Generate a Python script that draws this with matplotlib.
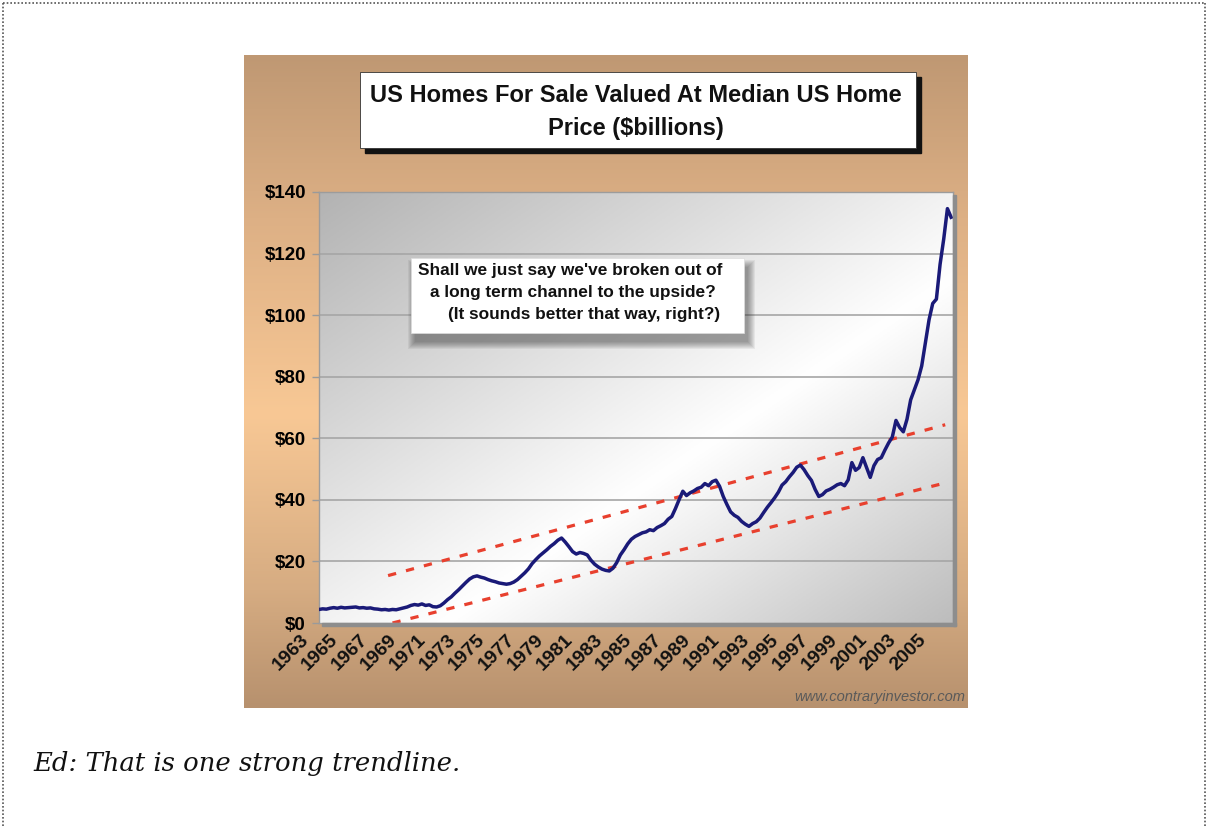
import numpy as np
import matplotlib
matplotlib.use("Agg")
import matplotlib.pyplot as plt
import matplotlib.transforms as mtransforms
from matplotlib.patches import Rectangle
from matplotlib.lines import Line2D

W, H = 1208, 826
SANS = "Liberation Sans"

# quarterly value of homes for sale at the median price, $billions (Q1 1963 onward)
first_year = 1963
homes_value = [
    4.4, 4.6, 4.5, 4.8,      # 1963
    5.0, 4.8, 5.1, 4.9,      # 1964
    5.0, 5.1, 5.2, 4.9,      # 1965
    5.0, 4.8, 4.9, 4.6,      # 1966
    4.5, 4.3, 4.4, 4.2,      # 1967
    4.4, 4.3, 4.6, 4.9,      # 1968
    5.2, 5.7, 6.0, 5.8,      # 1969
    6.2, 5.7, 5.9, 5.3,      # 1970
    5.2, 5.6, 6.5, 7.6,      # 1971
    8.5, 9.7, 10.8, 12.0,    # 1972
    13.2, 14.3, 15.0, 15.3,  # 1973
    14.9, 14.6, 14.1, 13.7,  # 1974
    13.4, 13.0, 12.8, 12.6,  # 1975
    12.8, 13.3, 14.1, 15.2,  # 1976
    16.3, 17.6, 19.3, 20.6,  # 1977
    21.8, 22.8, 23.8, 24.9,  # 1978
    25.8, 26.9, 27.6, 26.3,  # 1979
    24.8, 23.2, 22.4, 22.9,  # 1980
    22.6, 22.1, 20.4, 19.1,  # 1981
    18.2, 17.5, 17.1, 16.9,  # 1982
    17.8, 19.6, 22.1, 23.8,  # 1983
    25.7, 27.2, 28.1, 28.7,  # 1984
    29.3, 29.6, 30.3, 30.0,  # 1985
    31.0, 31.6, 32.3, 33.7,  # 1986
    34.6, 37.2, 40.1, 42.8,  # 1987
    41.4, 42.3, 42.9, 43.7,  # 1988
    44.1, 45.3, 44.6, 45.9,  # 1989
    46.4, 44.4, 41.1, 38.5,  # 1990
    36.1, 35.0, 34.3, 33.0,  # 1991
    32.1, 31.4, 32.3, 32.9,  # 1992
    34.1, 35.9, 37.6, 39.1,  # 1993
    40.7, 42.5, 44.8, 45.9,  # 1994
    47.5, 48.9, 50.6, 51.3,  # 1995
    49.8, 47.9, 46.3, 43.4,  # 1996
    41.1, 41.7, 42.9, 43.4,  # 1997
    44.1, 44.9, 45.3, 44.6,  # 1998
    46.5, 52.1, 49.6, 50.5,  # 1999
    53.7, 50.5, 47.3, 51.1,  # 2000
    53.1, 53.7, 56.2, 58.5,  # 2001
    60.4, 65.8, 63.5, 62.1,  # 2002
    66.2, 72.5, 75.8, 79.0,  # 2003
    83.5, 91.0, 98.5, 103.8, # 2004
    105.2, 116.5, 124.8, 134.6,  # 2005
    131.8,                   # 2006
]

# channel lines (year, $bn) endpoints
upper_x = [1967.7, 2005.6]
upper_y = [15.4, 64.4]
lower_x = [1968.0, 2005.6]
lower_y = [0.0, 45.5]

year_ticks = list(range(1963, 2006, 2))
dollar_ticks = [0, 20, 40, 60, 80, 100, 120, 140]

title_lines = ["US Homes For Sale Valued At Median US Home", "Price ($billions)"]
note_lines = ["Shall we just say we've broken out of",
              "a long term channel to the upside?",
              "(It sounds better that way, right?)"]
source_text = "www.contraryinvestor.com"
caption = "Ed: That is one strong trendline."


def fx(x):
    return x / W


def fy(y):
    return 1 - y / H


def box(x0, y0, x1, y1):
    return [fx(x0), fy(y1), (x1 - x0) / W, (y1 - y0) / H]


fig = plt.figure(figsize=(W / 100, H / 100), dpi=100)
fig.patch.set_facecolor("white")

# tan backdrop with vertical gradient
bg = fig.add_axes(box(244, 55, 968, 708))
bg.set_axis_off()
t = np.linspace(0, 1, 300)
stops = [0.0, 0.25, 0.55, 0.82, 1.0]
rgb = np.array([[0xBF, 0x98, 0x73], [0xDD, 0xB0, 0x85], [0xF8, 0xC8, 0x95],
                [0xD6, 0xAC, 0x82], [0xB7, 0x91, 0x6E]]) / 255
grad = np.stack([np.interp(t, stops, rgb[:, k]) for k in range(3)], axis=1)
bg.imshow(grad[:, None, :], aspect="auto", extent=[0, 1, 0, 1])
bg.set_xlim(0, 1); bg.set_ylim(0, 1)

# plot area
ax = fig.add_axes(box(319, 192, 953, 623))
ny, nx = 160, 220
rows, cols = np.mgrid[0:ny, 0:nx]
tt = (cols / (nx - 1) + rows / (ny - 1)) / 2
shade = np.interp(tt, [0.0, 0.6, 1.0], [0.70, 1.0, 0.74])
ax.imshow(np.dstack([shade] * 3), extent=[0, 1, 0, 1], transform=ax.transAxes,
          aspect="auto", zorder=0)

years = first_year + np.arange(len(homes_value)) / 4
ax.set_xlim(1963, 1963 + 634 / 14.7)
ax.set_ylim(0, 140)
for v in dollar_ticks[1:]:
    ax.axhline(v, color="#a6a6a6", lw=1.2, zorder=1)

ax.plot(upper_x, upper_y, color="#e8402e", lw=2.3, ls=(0, (2.6, 3.2)), zorder=2)
ax.plot(lower_x, lower_y, color="#e8402e", lw=2.3, ls=(0, (2.6, 3.2)), zorder=2)
ax.plot(years, homes_value, color="#1a1a78", lw=2.5, zorder=3)

ax.set_yticks(dollar_ticks)
ax.set_yticklabels([f"${v}" for v in dollar_ticks], fontfamily=SANS,
                   fontweight="bold", fontsize=13.5)
ax.tick_params(axis="y", length=5, width=1, color="#9a9a9a", pad=4.5)

# year labels sit a little left of their position, slanted like the old chart
ax.set_xticks([])
lab_tr = (mtransforms.blended_transform_factory(ax.transData, ax.transAxes)
          + mtransforms.ScaledTranslation(-0.19, -0.08, fig.dpi_scale_trans))
for yr in year_ticks:
    ax.text(yr, 0, str(yr), transform=lab_tr, rotation=45, rotation_mode="anchor",
            ha="right", va="top", fontsize=14, fontweight="bold", fontfamily=SANS,
            color="#111111", clip_on=False)

for s in ax.spines.values():
    s.set_color("#9c9c9c")
    s.set_linewidth(1)

# plot area drop shadow
fig.patches.append(Rectangle((fx(953), fy(626)), 3 / W, (626 - 195) / H,
                             transform=fig.transFigure, color="#8d8d8d", zorder=1))
fig.patches.append(Rectangle((fx(322), fy(626)), (956 - 322) / W, 3 / H,
                             transform=fig.transFigure, color="#8d8d8d", zorder=1))

# title box
fig.patches.append(Rectangle((fx(365), fy(153)), (921 - 365) / W, (153 - 77) / H,
                             transform=fig.transFigure, color="#111111", zorder=5))
fig.patches.append(Rectangle((fx(360), fy(148)), (916 - 360) / W, (148 - 72) / H,
                             transform=fig.transFigure, facecolor="white",
                             edgecolor="#333333", lw=0.6, zorder=6))
for ty, line in zip([95, 128], title_lines):
    fig.text(fx(636), fy(ty), line, ha="center", va="center", fontsize=17,
             fontweight="bold", fontfamily=SANS, color="#111111", zorder=7)

# annotation box with soft shadow
nx0, ny0, nx1, ny1 = 411, 258, 744, 333
for i in range(8):
    fig.patches.append(Rectangle((fx(nx0 + 4 - i), fy(ny1 + 9 + i)),
                                 (nx1 - nx0 + 2 * i) / W, (ny1 - ny0 + 2 * i) / H,
                                 transform=fig.transFigure, color="#303030",
                                 alpha=0.07, lw=0, zorder=5))
fig.patches.append(Rectangle((fx(nx0), fy(ny1)), (nx1 - nx0) / W, (ny1 - ny0) / H,
                             transform=fig.transFigure, facecolor="white",
                             edgecolor="#dddddd", lw=0.5, zorder=6))
for (cx, ty), line in zip([(570, 271), (573, 293), (584, 315)], note_lines):
    fig.text(fx(cx), fy(ty), line, ha="center", va="center", fontsize=12.4,
             fontweight="bold", fontfamily=SANS, color="#111111", zorder=7)

fig.text(fx(965), fy(697), source_text, ha="right", va="center", fontsize=10.5,
         style="italic", fontfamily=SANS, color="#5a5a5a")

fig.text(fx(33), fy(763), caption, ha="left", va="center", fontsize=18.6,
         style="italic", fontfamily="DejaVu Serif", color="#111111")

# dotted page frame
dot = dict(color="#555555", lw=1.2, ls=(0, (1, 1.2)), transform=fig.transFigure)
fig.lines.append(Line2D([fx(3), fx(3)], [fy(3), 0], **dot))
fig.lines.append(Line2D([fx(3), fx(1205)], [fy(3), fy(3)], **dot))
fig.lines.append(Line2D([fx(1205), fx(1205)], [fy(3), 0], **dot))

fig.savefig("out.png", dpi=100)
